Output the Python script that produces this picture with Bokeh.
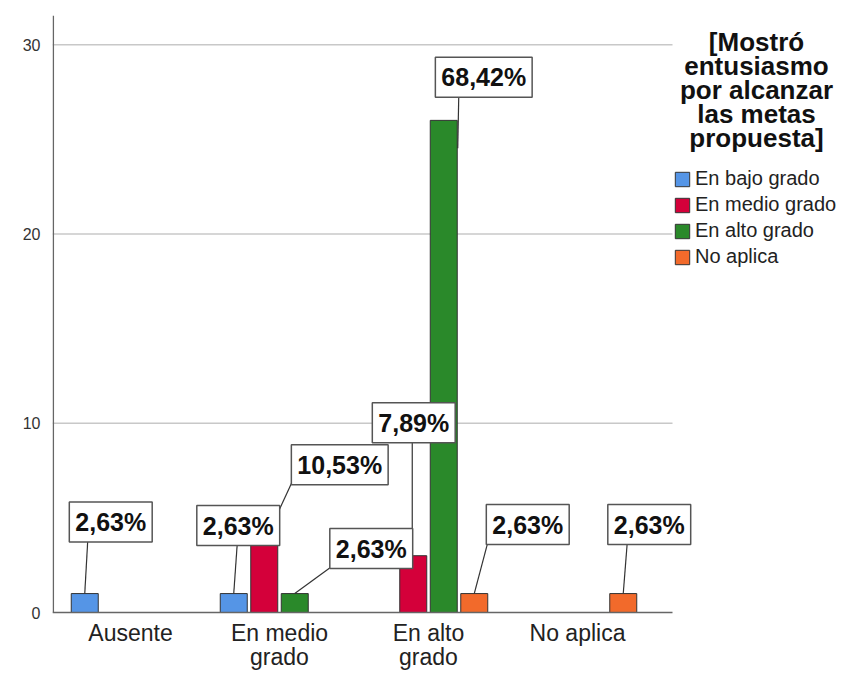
from bokeh.plotting import figure
from bokeh.models import Range1d, FixedTicker, Label, Legend, LegendItem, ColumnDataSource
from bokeh.core.properties import value
from bokeh.embed import file_html
from bokeh.resources import INLINE

# ---- data ----
categories = ["Ausente", "En medio\ngrado", "En alto\ngrado", "No aplica"]
series_names = ["En bajo grado", "En medio grado", "En alto grado", "No aplica"]
series_colors = ["#5595e6", "#d4003a", "#2a892a", "#f26a2b"]
count_bajo = [1, 1, 0, 0]
count_medio = [0, 4, 3, 0]
count_alto = [0, 1, 26, 0]
count_noaplica = [0, 0, 1, 1]
y_ticks = [0, 10, 20, 30]
legend_title_lines = ["[Mostró", "entusiasmo", "por alcanzar", "las metas", "propuesta]"]

series_counts = [count_bajo, count_medio, count_alto, count_noaplica]
total = sum(sum(s) for s in series_counts)

# ---- layout / style constants ----
FONT = "Liberation Sans"
W, H = 846, 673
BORDER_L, BORDER_T = 52, 15
FRAME_W = W - BORDER_L
FRAME_H = H - BORDER_T
PX_X = 149.0
X_START = -0.5235
X_END = X_START + FRAME_W / PX_X
X_PLOT_END = X_START + 620 / PX_X      # right end of the drawn plot area
Y_PLOT_TOP = 31.54                      # value at the top of the frame
PX_Y = 597 / Y_PLOT_TOP
Y_END = Y_PLOT_TOP
Y_START = Y_END - FRAME_H / PX_Y        # frame extends below zero for the category labels
BAR_STEP = 30.5 / PX_X
BAR_W = 27 / PX_X


def sy(page_y):
    """page y (from top) -> screen units inside frame (from bottom)"""
    return H - page_y


# callout offsets (pixels) for each non-zero bar, in category/series order
label_dx = [26, 4.5, 75.5, 76.5, 0.5, 40, 53.5, 26]
label_dy = [71.5, 68, 72, 45, 133, 43, 69, 69]
lead_sx = [0, 0, 2.5, 0, -1, 14, 0, 0]
lead_sy = [0, 0, 0, 0, 0, -28, 0, 0]
lead_ex = [3, 3.5, 27.5, 37, -1, 15, 13.5, 4]
lead_ey = [53, 50, 54, 27, 115, 24, 51, 51]

p = figure(width=W, height=H, output_backend="svg", toolbar_location=None,
           x_range=Range1d(X_START, X_END), y_range=Range1d(Y_START, Y_END),
           min_border_left=BORDER_L, min_border_top=BORDER_T, min_border_right=0,
           min_border_bottom=0)
p.outline_line_color = None
p.background_fill_color = "white"
p.border_fill_color = "white"
p.xgrid.grid_line_color = None
p.ygrid.grid_line_color = None
p.xaxis.visible = False

p.yaxis.ticker = FixedTicker(ticks=y_ticks)
p.yaxis.major_tick_line_color = None
p.yaxis.minor_tick_line_color = None
p.yaxis.axis_line_color = None
p.yaxis.major_label_text_font = FONT
p.yaxis.major_label_text_font_size = "16px"
p.yaxis.major_label_text_color = "#333333"
p.yaxis.major_label_standoff = 6

# horizontal gridlines limited to the plot area
grid_y = [t for t in y_ticks if t > 0]
p.segment(x0=[X_START] * len(grid_y), y0=grid_y, x1=[X_PLOT_END] * len(grid_y), y1=grid_y,
          line_color="#c8c8c8", line_width=1.5)

# bars
items = []
for si, (name, color, counts) in enumerate(zip(series_names, series_colors, series_counts)):
    xs, hs = [], []
    for ci, c in enumerate(counts):
        if c > 0:
            xs.append(ci + (si - 1.5) * BAR_STEP)
            hs.append(c)
    src = ColumnDataSource(dict(x=xs, top=hs))
    r = p.vbar(x="x", top="top", width=BAR_W, source=src, fill_color=color,
               line_color="#333333", line_width=1)
    items.append(LegendItem(label=name, renderers=[r]))

# axis lines (plot area only)
AX = X_START + 0.8 / PX_X
p.segment(x0=[X_START], y0=[0], x1=[X_PLOT_END], y1=[0], line_color="#666666", line_width=1.5)
p.segment(x0=[AX], y0=[0], x1=[AX], y1=[Y_END], line_color="#666666", line_width=1.5)

# category labels
p.text(x=list(range(len(categories))), y=[0] * len(categories), text=categories,
       text_align="center", text_baseline="top", y_offset=7,
       text_font=value(FONT), text_font_size="23px", text_line_height=0.95,
       text_color="#222222")

bars = []
for ci in range(len(categories)):
    for si, counts in enumerate(series_counts):
        if counts[ci] > 0:
            bars.append((ci + (si - 1.5) * BAR_STEP, counts[ci]))

# leader lines
x0 = [b[0] + sx_ / PX_X for b, sx_ in zip(bars, lead_sx)]
y0 = [b[1] + sy_ / PX_Y for b, sy_ in zip(bars, lead_sy)]
x1 = [b[0] + ex / PX_X for b, ex in zip(bars, lead_ex)]
y1 = [b[1] + ey / PX_Y for b, ey in zip(bars, lead_ey)]
p.segment(x0=x0, y0=y0, x1=x1, y1=y1, line_color="#333333", line_width=1.2)

# callout labels
for (bx, v), dx, dy in zip(bars, label_dx, label_dy):
    pct = f"{v / total * 100:.2f}".replace(".", ",") + "%"
    p.add_layout(Label(x=bx, y=v, x_offset=dx, y_offset=dy, text=pct,
                       text_align="center", text_baseline="middle",
                       text_font=FONT, text_font_size="25px", text_font_style="bold",
                       text_color="#111111", background_fill_color="white",
                       border_line_color="#555555", border_line_width=1.5, padding=6))

legend = Legend(items=items, location=(621, sy(268)), border_line_color=None,
                background_fill_alpha=0, padding=2, spacing=3, margin=0,
                glyph_width=18, glyph_height=18, label_standoff=4,
                label_text_font=FONT, label_text_font_size="20px", label_text_color="#222222")
p.add_layout(legend)

# legend title, one label per line
for i, line in enumerate(legend_title_lines):
    p.add_layout(Label(x=704, y=sy(41 + 24 * i), x_units="screen", y_units="screen", text=line,
                       text_align="center", text_baseline="middle", text_font=FONT,
                       text_font_size="26px", text_font_style="bold",
                       text_color="#111111"))

open("out.html", "w").write(file_html(p, INLINE))
